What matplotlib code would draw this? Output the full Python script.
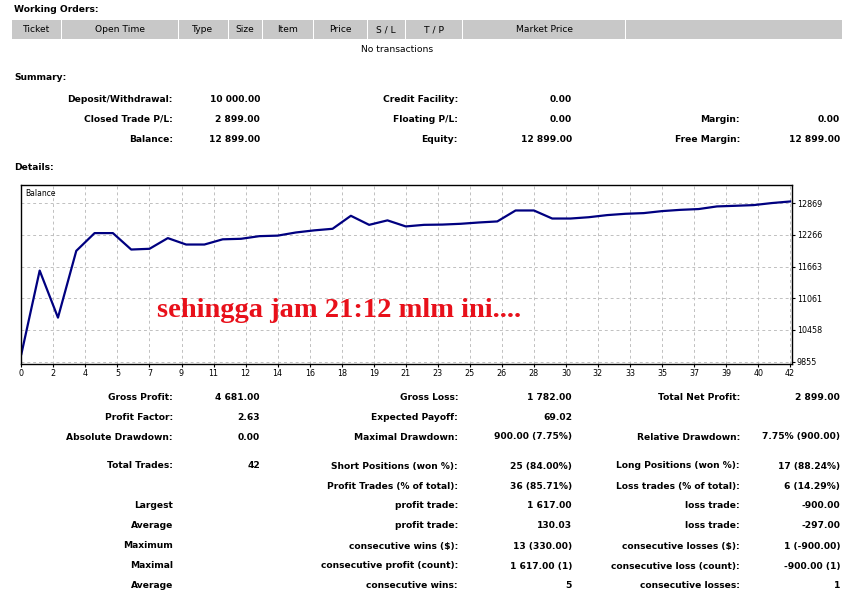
import matplotlib.pyplot as plt
from matplotlib.patches import Rectangle

W, H = 860, 601

# -----------------------------
# Data
# -----------------------------
balance = [10000, 11586, 10692, 11961, 12298, 12298, 11986, 12000, 12203, 12081,
           12081, 12180, 12190, 12240, 12250, 12310, 12350, 12380, 12627, 12455,
           12540, 12425, 12455, 12460, 12475, 12500, 12520, 12728, 12728, 12575,
           12575, 12600, 12640, 12665, 12678, 12716, 12740, 12755, 12805, 12817,
           12830, 12869, 12899]
x_tick_labels = ['0', '2', '4', '5', '7', '9', '11', '12', '14', '16', '18', '19', '21',
                 '23', '25', '26', '28', '30', '32', '33', '35', '37', '39', '40', '42']
y_ticks = [9855, 10458, 11061, 11663, 12266, 12869]

order_cols = ['Ticket', 'Open Time', 'Type', 'Size', 'Item', 'Price', 'S / L', 'T / P', 'Market Price', '']

summary_rows = [
    ['Deposit/Withdrawal:', '10 000.00', 'Credit Facility:', '0.00', '', ''],
    ['Closed Trade P/L:', '2 899.00', 'Floating P/L:', '0.00', 'Margin:', '0.00'],
    ['Balance:', '12 899.00', 'Equity:', '12 899.00', 'Free Margin:', '12 899.00'],
]
detail_rows = [
    ['Gross Profit:', '4 681.00', 'Gross Loss:', '1 782.00', 'Total Net Profit:', '2 899.00'],
    ['Profit Factor:', '2.63', 'Expected Payoff:', '69.02', '', ''],
    ['Absolute Drawdown:', '0.00', 'Maximal Drawdown:', '900.00 (7.75%)', 'Relative Drawdown:', '7.75% (900.00)'],
    ['Total Trades:', '42', 'Short Positions (won %):', '25 (84.00%)', 'Long Positions (won %):', '17 (88.24%)'],
    ['', '', 'Profit Trades (% of total):', '36 (85.71%)', 'Loss trades (% of total):', '6 (14.29%)'],
    ['Largest', '', 'profit trade:', '1 617.00', 'loss trade:', '-900.00'],
    ['Average', '', 'profit trade:', '130.03', 'loss trade:', '-297.00'],
    ['Maximum', '', 'consecutive wins ($):', '13 (330.00)', 'consecutive losses ($):', '1 (-900.00)'],
    ['Maximal', '', 'consecutive profit (count):', '1 617.00 (1)', 'consecutive loss (count):', '-900.00 (1)'],
    ['Average', '', 'consecutive wins:', '5', 'consecutive losses:', '1'],
]

# -----------------------------
# Layout helpers (pixel coords)
# -----------------------------
fig = plt.figure(figsize=(W / 100, H / 100), dpi=100)
plt.rcParams['font.family'] = 'DejaVu Sans'
FS = 6.6


def px(x, y):
    return x / W, 1 - y / H


def txt(x, y, s, ha='left', bold=False, size=FS, **kw):
    fig.text(*px(x, y), s, ha=ha, va='center', fontsize=size,
             fontweight='bold' if bold else 'normal', **kw)


txt(14, 10, 'Working Orders:', bold=True)
txt(14, 78, 'Summary:', bold=True)
txt(14, 168, 'Details:', bold=True)

# working orders header bar
fig.patches.append(Rectangle(px(12, 39), 830 / W, 19 / H, transform=fig.transFigure,
                             facecolor='#c8c8c8', edgecolor='none'))
seps = [12, 62, 178, 228, 262, 313, 367, 405, 463, 625, 842]
for i, name in enumerate(order_cols):
    if i > 0:
        fig.patches.append(Rectangle(px(seps[i] - 0.5, 39), 1 / W, 19 / H,
                                     transform=fig.transFigure, facecolor='white', edgecolor='none'))
    if name:
        txt((seps[i] + seps[i + 1]) / 2, 30, name, ha='center')
txt(397, 50, 'No transactions', ha='center')

col_x = [173, 260, 458, 572, 740, 840]


def table(rows, ys):
    for row, y in zip(rows, ys):
        for j, s in enumerate(row):
            if s:
                txt(col_x[j], y, s, ha='right', bold=True)


table(summary_rows, [99, 119, 139])
table(detail_rows, [397, 417, 437, 466, 486, 506, 526, 546, 566, 586])

# -----------------------------
# Balance chart
# -----------------------------
ax = fig.add_axes([21 / W, 1 - 364 / H, 771 / W, 179 / H])
ax.plot(range(len(balance)), balance, color='#000080', lw=1.6)
ax.set_xlim(-0.02, 42.1)
ax.set_ylim(9811, 13212)
xt = [i * 1.75 for i in range(len(x_tick_labels))]
ax.set_xticks(xt)
ax.set_xticklabels(x_tick_labels, fontsize=5.8)
ax.set_yticks(y_ticks)
ax.set_yticklabels([str(v) for v in y_ticks], fontsize=5.8)
ax.yaxis.tick_right()
ax.tick_params(length=2, pad=1.5)
ax.grid(True, color='#c0c0c0', ls=(0, (3, 3)), lw=0.7)
for s in ax.spines.values():
    s.set_linewidth(1.0)
ax.text(0.005, 0.975, 'Balance', transform=ax.transAxes, fontsize=5.5, va='top')
ax.text(0.177, 0.3, 'sehingga jam 21:12 mlm ini....', transform=ax.transAxes,
        fontsize=20.5, fontweight='bold', color='#e8101a', family='Liberation Serif',
        va='center')

fig.savefig('out.png', dpi=100)
